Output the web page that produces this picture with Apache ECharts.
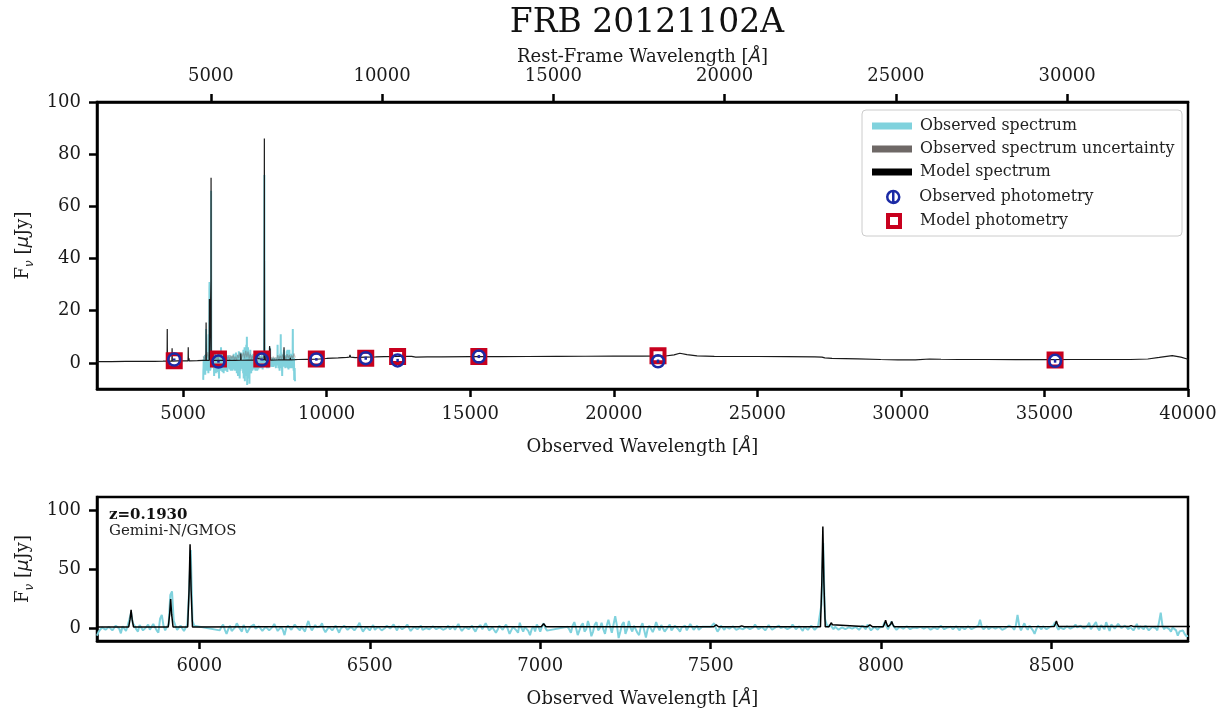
<!DOCTYPE html>
<html><head><meta charset="utf-8">
<script src="https://cdn.jsdelivr.net/npm/echarts@6/dist/echarts.min.js"></script>
<style>html,body{margin:0;padding:0;background:#fff}#c{width:1227px;height:711px}</style>
</head><body><div id="c"></div>
<script>
// ---------------- DATA ----------------
const redshift = 0.1930;
const titleText = 'FRB 20121102A';
const instrument = 'Gemini-N/GMOS';

// Observed spectrum: linear wavelength solution (start, step) + flux values [µJy]; null = no data (chip gaps)
const obsStart = 5700, obsStep = 5;
const obsFlux = [
 -6.5,-3,-2,0.5,1.5,-1.5,-3,1,2.5,-2,-1,2,3,-0.5,-4.5,1.5,1,-2.5,2,1,                 // 5700
 13,4,2,-1,-3,2.5,1.5,-2,-2.5,1,3,-1.5,-1,3.5,2,-2,-4,8,11,2,                          // 5800
 -2,1,3,28,31,6,2,-1.5,-3,2,1.5,-2.5,-2,3,30,66,6,2,null,null,                         // 5900
 null,null,null,null,null,null,null,null,null,null,null,null,-2,1,3,-1.5,-5,-1,2,-2.5, // 6000
 -3,0.5,4,1.5,-1,-3,2.5,0,-4,-1.5,1,2.5,3,-0.5,-2,1.5,0.5,-2.5,-3.5,1,                 // 6100
 2,-2,-1,1,3.5,0.5,-2.5,-4,1,-1.5,-6,0,2,3,-1.5,-0.5,3,1,-0.5,-2,                      // 6200
 1.5,-1,-3,2,6,1,-2,-3,2.5,0.5,-1,1.5,4,-1,-3.5,-2,1,2.5,-2,0,                         // 6300
 2,-1,-4,-0.5,1,2,3,-1.5,-2.5,1,0.5,-2,-1.5,2,4.5,0,-3,-1,1,2.5,                       // 6400
 -2,0.5,2.5,-1.5,-1,1,1.5,-2,-3.5,0,2,1,-0.5,-2,3,0.5,-2,1.5,0.5,-1,                   // 6500
 -1.5,1,3,0,-2.5,-1,1,2,-1,0.5,2,-1.5,-3,0,1.5,-1,-0.5,1.5,2.5,-1,                     // 6600
 -2,0.5,1,-1.5,-3,0,2,-1,0.5,1.5,-1.5,1,3.5,0,-2.5,-1,1,2,-1,0.5,                      // 6700
 2,-1,-3,0,1.5,2.5,-1,-2,4,1,-2,-0.5,0.5,2,-4,-1.5,2,0.5,-1.5,1,                       // 6800
 3,-1,-5,-2,1,2.5,-2,-4,4.5,0,-3,1,2,-2.5,-6,-1,1.5,-3,3,0.5,                          // 6900
 -3,1,4,0,-2.2,null,null,null,null,null,null,null,null,null,null,null,1,-1,-4,2,      // 7000
 5,0,-6,-2,2,4,-3,-1,6,1,-7,-3,3,5,-2,0,4.5,-1,-5,2,                                   // 7100
 7,1,-4,3,10,2,-8.5,-3,3,5,-5,-1,6,0,-3,2,2,-4,-6,1,                                   // 7200
 4,-2,-8,-1,2,3,-3.5,0,5,1,-2,2.5,1.5,-3,-4,1,3,-2,-1,2,                               // 7300
 2.5,-1,-3,0.5,1,2,-2,-0.5,3.5,1,-1.5,0,2,-1.5,-2.5,1,0.5,null,null,null,              // 7400
 1,2.5,4,0,-3,-1,2,0.5,-1.5,1,2.5,-0.5,-2,1.5,1,-1.5,-3,0,1.5,-1,                      // 7500
 -1,1,2,-1,-2.5,0.5,3,1,-1,-2,1,2,-2,0,2.5,1,-1.5,-0.5,0.5,2,                          // 7600
 2,0,-1.5,1,1,-1,-2,0.5,3,1.5,-1,-2,1.5,0.5,-2.5,1,1,-1.5,-1,2,                        // 7700
 2,-1.5,-1,1.5,2,20,72,8,3,1,3,4,-1,1,1.5,-1.5,-2,0.5,1,-1,                            // 7800
 -1.5,0.5,2,-0.5,-2,1,1,-1.5,-1,2,1.5,-1,3,0.5,-2,-1,1,1.5,-1.5,0.5,                   // 7900
 2,1,5,6,-1,2,5.5,2,1,-1.5,-2,1,1.5,-0.5,-1,1.5,2,-1,-1.5,0.5,                         // 8000
 1,0,-1.5,1,2,-0.5,-1,1,1.5,-1.5,-2,0.5,1,-1,-0.5,2,1.5,-1,-1,0.5,                     // 8100
 0.5,1,-1,-0.5,1.5,0,-2,1,1,-1,-0.5,1.5,2,-1,-1.5,0.5,1,2,7,1,                         // 8200
 -1,0.5,1.5,-1,-2,1,1.5,-0.5,-0.5,1,2,-1.5,-3,0,1,2,3.5,0.5,-1.5,2,                    // 8300
 11,2,-2,1,4,0.5,-1.5,2,3,-2,-5,-1,2,0.5,-1,1.5,1.5,-1,-0.5,1,                         // 8400
 1,2,5,1,-1.5,0.5,2,-1,-1,1.5,1.5,-0.5,-2,1,3,0.5,-1,2,2,-0.5,                         // 8500
 -1.5,2,4.5,-1,1,3,5,0,-2,2.5,3.5,-1,5,1,-2.5,3,4,-0.5,1,3.5,                          // 8600
 5,0,-1.5,2,3,-1,1,2.5,-2,0.5,3.5,-1,1.5,0,-1,2,2,-2,-1.5,1,                           // 8700
 2.5,0,-2,5,13,2,-1,1,1.5,-1,-3,0.5,2,-2,-6.5,-3,-4,-2,-5,-7,                          // 8800
 -6.5                                                                                   // 8900
];

// Observed spectrum uncertainty (coarser sampling)
const uncStart = 5700, uncStep = 40;
const uncFlux = [
 2.5,1.3,3.4,1.8,4.1,1.5,2.8,1.2,null,2.2,
 3.6,1.4,2.9,1.1,3.8,2.0,3.1,1.2,2.6,1.7,
 3.3,1.4,2.5,1.0,2.9,1.6,3.0,1.3,2.4,1.1,
 3.2,1.8,4.0,1.5,1.2,3.9,1.7,4.6,2.1,4.3,
 1.6,3.5,1.4,2.7,1.2,2.4,1.0,2.6,1.3,2.8,
 1.1,2.3,1.5,3.0,1.2,2.5,1.0,2.7,1.4,2.2,
 1.1,2.4,1.3,2.1,1.2,3.0,1.5,2.8,1.6,3.3,
 1.4,2.6,1.3,3.4,1.8,3.1,1.5,2.9,1.7,3.6,
 2.0
];

// Model spectrum [observed wavelength Å, flux µJy]
const modelSpec = [
 [2000,0.5],[2500,0.5],[3000,0.55],[3500,0.55],[4000,0.6],[4300,0.65],
 [4440,0.7],[4444,6],[4447,13],[4450,6],[4454,0.7],
 [4609,0.72],[4613,2.6],[4616,5.6],[4619,2.6],[4623,0.72],
 [4800,0.75],
 [5171,0.78],[5175,2.8],[5178,6],[5181,2.8],[5185,0.78],
 [5198,0.78],[5202,1.2],[5205,1.8],[5208,1.2],[5212,0.78],
 [5500,0.85],[5700,0.95],
 [5793,0.95],[5797,7.5],[5800,15.5],[5803,7.5],[5807,0.95],
 [5909,0.95],[5913,11.5],[5916,24.5],[5919,11.5],[5923,0.95],
 [5966,0.95],[5970,32],[5973,71],[5976,32],[5980,0.95],
 [6200,0.97],[6500,1.0],[6800,1.0],
 [7003,1.02],[7007,2.3],[7010,3.6],[7013,2.3],[7017,1.02],
 [7300,1.05],
 [7509,1.06],[7513,1.8],[7516,2.6],[7519,1.8],[7523,1.06],
 [7584,1.07],[7588,1.4],[7591,1.8],[7594,1.4],[7598,1.07],
 [7822,1.1],[7826,39],[7829,86],[7832,39],[7836,1.1],
 [7847,1.1],[7851,2.7],[7854,4.5],[7857,2.7],[7861,1.1],
 [7960,1.1],[7964,1.8],[7967,2.6],[7970,1.8],[7974,1.1],
 [8006,1.1],[8010,3.7],[8013,6.5],[8016,3.7],[8020,1.1],
 [8024,1.1],[8028,3.2],[8031,5.5],[8034,3.2],[8038,1.1],
 [8300,1.15],
 [8507,1.2],[8511,3.4],[8514,6],[8517,3.4],[8521,1.2],
 [8726,1.2],[8730,1.6],[8733,2.0],[8736,1.6],[8740,1.2],
 [8900,1.25],[9000,1.3],[9300,1.35],[9640,1.4],[10000,1.7],[10400,1.9],
 [10700,2.1],[10790,2.2],[10812,3.1],[10835,2.2],[11000,2.0],
 [11340,2.2],[11370,2.8],[11400,2.2],[11700,2.3],[12000,2.4],[12500,2.45],
 [12880,2.5],[12920,2.95],[12960,2.5],[13100,2.25],[13500,2.3],[14000,2.35],
 [15000,2.4],[15260,2.4],[15292,2.9],[15320,2.4],[16000,2.4],[17000,2.45],
 [18000,2.5],[19000,2.55],[20000,2.6],[21000,2.6],[21800,2.65],[22100,3.1],
 [22300,3.7],[22550,3.2],[22900,2.7],[23500,2.5],[25000,2.45],[26000,2.4],
 [27000,2.35],[27250,2.2],[27350,1.9],[27600,1.75],[28500,1.55],[29300,1.3],
 [29900,1.15],[30500,1.2],[31000,1.5],[31400,1.4],[32000,1.3],[33000,1.3],
 [34000,1.25],[35000,1.25],[36000,1.3],[37000,1.3],[38000,1.3],[38600,1.5],
 [39000,2.1],[39450,2.8],[39750,2.2],[40000,1.4]
];

// Photometry
const photWave  = [4690, 6230, 7740, 9640, 11360, 12470, 15300, 21540, 35370];
const photObs   = [1.3, 0.5, 1.3, 1.35, 1.8, 0.95, 2.45, 0.6, 0.8];
const photErr   = [0.4, 0.4, 0.4, 0.5, 0.6, 0.6, 0.6, 0.7, 0.7];
const photModel = [0.85, 1.5, 1.5, 1.5, 1.8, 2.45, 2.45, 2.7, 1.15];

// Ticks
const topObsTicks  = [5000, 10000, 15000, 20000, 25000, 30000, 35000, 40000];
const restTicks    = [5000, 10000, 15000, 20000, 25000, 30000];
const topYTicks    = [0, 20, 40, 60, 80, 100];
const botXTicks    = [6000, 6500, 7000, 7500, 8000, 8500];
const botYTicks    = [0, 50, 100];

// ---------------- BUILD ----------------
const obsPairs = obsFlux.map((v, i) => [obsStart + i * obsStep, v]);
const uncPairs = uncFlux.map((v, i) => [uncStart + i * uncStep, v]);
const obsPhot = photWave.map((w, i) => [w, photObs[i]]);
const errPhot = photWave.map((w, i) => [w, photObs[i], photErr[i]]);
const modPhot = photWave.map((w, i) => [w, photModel[i]]);
const restObsPos = restTicks.map(r => r * (1 + redshift));

const C_OBS = '#80d2dd', C_UNC = '#6e6866', C_MOD = '#000000', C_BLUE = '#1b2aa5', C_RED = '#c8001e';
const SERIF = 'DejaVu Serif', SANS = 'DejaVu Sans', INK = '#1a1a1a';

const nameRich = {
  a: { fontFamily: SERIF, fontSize: 18, color: INK, lineHeight: 24 },
  c: { fontFamily: SANS, fontStyle: 'italic', fontSize: 18, color: INK, lineHeight: 24 },
  s: { fontFamily: SANS, fontStyle: 'italic', fontSize: 12, color: INK, lineHeight: 12, verticalAlign: 'bottom' }
};
const axLine = { show: true, onZero: false, lineStyle: { color: '#000', width: 2.5 } };
const tick = (vals) => ({ show: true, length: 8, lineStyle: { color: '#000', width: 2.5 }, customValues: vals });
const plain = v => String(v);
const label = (vals, extra) => Object.assign({ show: true, fontFamily: SERIF, fontSize: 18, color: INK, customValues: vals, formatter: plain }, extra || {});

function legendItem(name, top, opts) {
  return Object.assign({
    orient: 'vertical', left: 872, top: top, padding: 0, selectedMode: false, z: 6,
    itemWidth: 40, itemHeight: 7,
    textStyle: { fontFamily: SERIF, fontSize: 15.8, color: '#222', padding: [0, 0, 0, 3] },
    data: [{ name: name, icon: 'rect' }]
  }, opts || {});
}

const option = {
  animation: false,
  backgroundColor: '#fff',
  textStyle: { fontFamily: SERIF },
  title: [
    { text: titleText, left: 642, top: 2, textAlign: 'center',
      textStyle: { fontFamily: SERIF, fontSize: 33, fontWeight: 'normal', color: '#111' } },
    { text: 'z=' + redshift.toFixed(4), subtext: instrument, left: 109, top: 508, padding: 0, itemGap: 1,
      textStyle: { fontFamily: SERIF, fontSize: 15, fontWeight: 'bold', color: '#111' },
      subtextStyle: { fontFamily: SERIF, fontSize: 15, color: '#222' } }
  ],
  graphic: [
    { type: 'rect', z: 3, shape: { x: 862, y: 110, width: 320, height: 126, r: 4 },
      style: { fill: 'rgba(255,255,255,0.85)', stroke: '#cccccc', lineWidth: 1 } }
  ],
  legend: [
    legendItem('Observed spectrum', 118),
    legendItem('Observed spectrum uncertainty', 141),
    legendItem('Model spectrum', 164),
    legendItem('Observed photometry', 189, {
      left: 886, itemWidth: 12, itemHeight: 13,
      textStyle: { fontFamily: SERIF, fontSize: 15.8, color: '#222', padding: [0, 0, 0, 15] },
      data: [{ name: 'Observed photometry', icon: 'path://M10,0A10,10,0,1,1,9.99,0ZM10,0L10,20',
               itemStyle: { color: 'rgba(0,0,0,0)', borderColor: C_BLUE, borderWidth: 2.5 } }]
    }),
    legendItem('Model photometry', 213, {
      left: 886, itemWidth: 12, itemHeight: 12,
      textStyle: { fontFamily: SERIF, fontSize: 15.8, color: '#222', padding: [0, 0, 0, 15] },
      data: [{ name: 'Model photometry', icon: 'rect',
               itemStyle: { color: 'rgba(0,0,0,0)', borderColor: C_RED, borderWidth: 4 } }]
    })
  ],
  grid: [
    { left: 97, top: 102, width: 1091, height: 287, show: true, borderColor: '#000', borderWidth: 2.5, backgroundColor: 'transparent' },
    { left: 97, top: 497, width: 1091, height: 144, show: true, borderColor: '#000', borderWidth: 2.5, backgroundColor: 'transparent' }
  ],
  xAxis: [
    { type: 'value', gridIndex: 0, position: 'bottom', min: 2000, max: 40000,
      axisLine: axLine, axisTick: tick(topObsTicks), axisLabel: label(topObsTicks, { margin: 16 }), splitLine: { show: false },
      name: '{a|Observed Wavelength [}{c|Å}{a|]}', nameLocation: 'middle', nameGap: 46, nameTextStyle: { rich: nameRich } },
    { type: 'value', gridIndex: 0, position: 'top', min: 2000, max: 40000,
      axisLine: axLine, axisTick: tick(restObsPos),
      axisLabel: label(restObsPos, { margin: 17, formatter: v => String(Math.round(v / (1 + redshift))) }),
      splitLine: { show: false },
      name: '{a|Rest-Frame Wavelength [}{c|Å}{a|]}', nameLocation: 'middle', nameGap: 33, nameTextStyle: { rich: nameRich } },
    { type: 'value', gridIndex: 1, position: 'bottom', min: 5700, max: 8900,
      axisLine: axLine, axisTick: tick(botXTicks), axisLabel: label(botXTicks, { margin: 16 }), splitLine: { show: false },
      name: '{a|Observed Wavelength [}{c|Å}{a|]}', nameLocation: 'middle', nameGap: 46, nameTextStyle: { rich: nameRich } }
  ],
  yAxis: [
    { type: 'value', gridIndex: 0, min: -10, max: 100,
      axisLine: axLine, axisTick: tick(topYTicks), axisLabel: label(topYTicks, { margin: 16 }), splitLine: { show: false },
      name: '{a|F}{s|ν}{a| [}{c|μ}{a|Jy]}', nameLocation: 'middle', nameGap: 60, nameTextStyle: { rich: nameRich } },
    { type: 'value', gridIndex: 1, min: -11, max: 111,
      axisLine: axLine, axisTick: tick(botYTicks), axisLabel: label(botYTicks, { margin: 16 }), splitLine: { show: false },
      name: '{a|F}{s|ν}{a| [}{c|μ}{a|Jy]}', nameLocation: 'middle', nameGap: 60, nameTextStyle: { rich: nameRich } }
  ],
  series: [
    { name: 'Observed spectrum', type: 'line', xAxisIndex: 0, yAxisIndex: 0, data: obsPairs, connectNulls: true,
      showSymbol: false, symbol: 'none', lineStyle: { color: C_OBS, width: 2 }, itemStyle: { color: C_OBS }, z: 2 },
    { name: 'Observed spectrum uncertainty', type: 'line', xAxisIndex: 0, yAxisIndex: 0, data: uncPairs,
      showSymbol: false, symbol: 'none', lineStyle: { color: C_UNC, width: 1.2, opacity: 0.45 }, itemStyle: { color: C_UNC }, z: 3 },
    { name: 'Model spectrum', type: 'line', xAxisIndex: 0, yAxisIndex: 0, data: modelSpec,
      showSymbol: false, symbol: 'none', lineStyle: { color: '#1a1a1a', width: 1.2 }, itemStyle: { color: C_MOD }, z: 4 },
    { name: 'Model photometry', type: 'scatter', xAxisIndex: 0, yAxisIndex: 0, data: modPhot,
      symbol: 'rect', symbolSize: 13, itemStyle: { color: 'rgba(0,0,0,0)', borderColor: C_RED, borderWidth: 4, opacity: 1 }, z: 5 },
    { name: 'Observed photometry', type: 'scatter', xAxisIndex: 0, yAxisIndex: 0, data: obsPhot,
      symbol: 'circle', symbolSize: 12, itemStyle: { color: 'rgba(0,0,0,0)', borderColor: C_BLUE, borderWidth: 2.5, opacity: 1 }, z: 6 },
    { name: 'photometry error', type: 'custom', xAxisIndex: 0, yAxisIndex: 0, data: errPhot, z: 6,
      encode: { x: 0, y: 1 },
      renderItem: (params, api) => {
        const x = api.value(0), y = api.value(1), e = api.value(2);
        const p1 = api.coord([x, y - e]), p2 = api.coord([x, y + e]);
        return { type: 'line', shape: { x1: p1[0], y1: p1[1], x2: p2[0], y2: p2[1] },
                 style: { stroke: C_BLUE, lineWidth: 2.5 } };
      } },
    { name: 'Observed spectrum (zoom)', type: 'line', xAxisIndex: 2, yAxisIndex: 1, data: obsPairs, connectNulls: true,
      showSymbol: false, symbol: 'none', lineStyle: { color: C_OBS, width: 2 }, z: 2 },
    { name: 'Model spectrum (zoom)', type: 'line', xAxisIndex: 2, yAxisIndex: 1, data: modelSpec,
      showSymbol: false, symbol: 'none', lineStyle: { color: '#000', width: 1.5 }, z: 4 }
  ]
};

const chart = echarts.init(document.getElementById('c'), null, { renderer: 'canvas' });
chart.setOption(option);
</script>
</body></html>
